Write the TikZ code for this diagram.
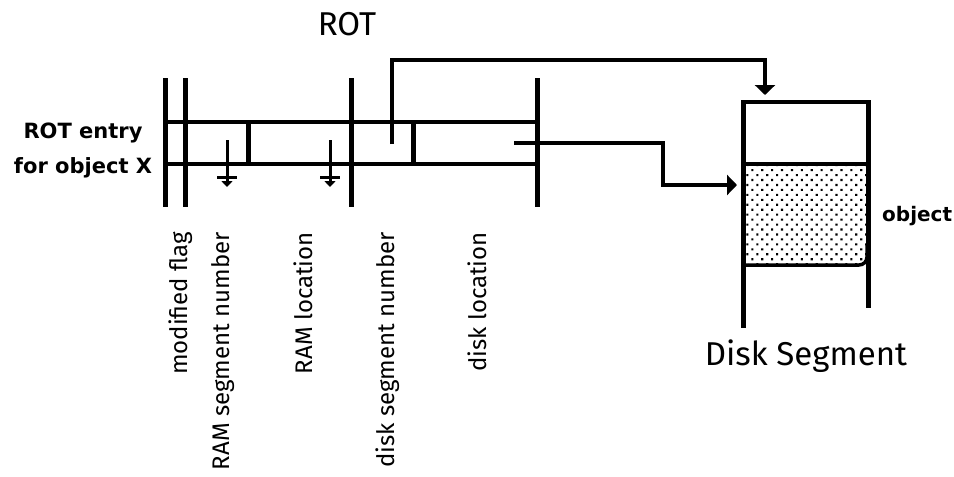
\documentclass[tikz,border=0pt]{standalone}
\usepackage{fontspec}
\setmainfont{Fira Sans}
\newfontfamily\boxfont{DejaVu Sans}
\usepackage{tikz}
\usetikzlibrary{arrows.meta, patterns.meta, positioning}
\tikzset{
  % table and segment lines
  rail/.style={line width=5pt},
  rule/.style={line width=3.5pt},
  ptr/.style={line width=3.5pt, -{Triangle[width=20pt, length=10pt]}},
  nilptr/.style={line width=3pt, -{Triangle[width=11pt, length=6pt]}},
  % labels
  field/.style={rotate=90, anchor=east, inner sep=0pt, font=\fontsize{24}{24}\selectfont},
  title/.style={anchor=base, inner sep=0pt, font=\fontsize{33}{33}\selectfont},
  side/.style={anchor=base, inner sep=0pt, font=\boxfont\bfseries\fontsize{21}{21}\selectfont},
}

\begin{document}
\begin{tikzpicture}[x=1pt, y=-1pt]
    \useasboundingbox (0,0) rectangle (954,477);
    % Y positions of the ROT entry
    \def\yTop{122} \def\yBot{164}
    % Titles
    \node[title] (rot) at (347,35) {ROT};
    \node[title] (segname) at (806,365) {Disk Segment};
    \node[side] (entry) at (83,138) {ROT entry};
    \node[side] (entryobj) at (83,173) {for object X};
    % ROT entry: rails and field rules
    \foreach \x in {165,185,351,537} {
      \draw[rail] (\x,78) -- (\x,207);
    }
    \draw[rule] (165,\yTop) -- (537,\yTop);
    \draw[rule] (165,\yBot) -- (537,\yBot);
    \draw[rail] (248,\yTop) -- (248,\yBot);
    \draw[rail] (413,\yTop) -- (413,\yBot);
    % Nil pointers (RAM segment number, RAM location)
    \foreach \x in {227,330} {
      \draw[nilptr] (\x,140) -- (\x,187);
      \draw[line width=3pt] ({\x-10},177) -- ({\x+10},177);
    }
    % Field names
    \foreach \x/\txt/\nm in {181/modified flag/lbflag, 223/RAM segment number/lbramseg,
        303/RAM location/lbramloc, 388/disk segment number/lbdiskseg, 477/disk location/lbdiskloc} {
      \node[field] (\nm) at (\x,232) {\txt};
    }
    % Disk segment
    \fill[pattern={Dots[distance=7pt, radius=1.5pt, angle=45]}]
      (745,164) -- (866,164) [rounded corners=8pt]-- (866,265) -- (745,265) -- cycle;
    \draw[rail] (743,100) -- (743,328);
    \draw[rail] (868,100) -- (868,308);
    \draw[rule] (741,102) -- (870,102);
    \draw[rule] (743,164) -- (868,164);
    \draw[rule, rounded corners=8pt] (743,265) -- (867,265) -- (867,245);
    \node[side, anchor=base west, font=\boxfont\bfseries\fontsize{20}{20}\selectfont] (obj) at (882,221) {object};
    % Pointers
    \coordinate (dsnum) at (392,144);
    \coordinate (segtop) at (765,95);
    \coordinate (dsloc) at (514,143);
    \coordinate (bend) at (663,185);
    \coordinate (objin) at (737,185);
    \draw[ptr] (dsnum) -- (dsnum |- 0,60) -| (segtop);
    \draw[ptr] (dsloc) -| (bend) -- (objin);
\end{tikzpicture}
\end{document}
